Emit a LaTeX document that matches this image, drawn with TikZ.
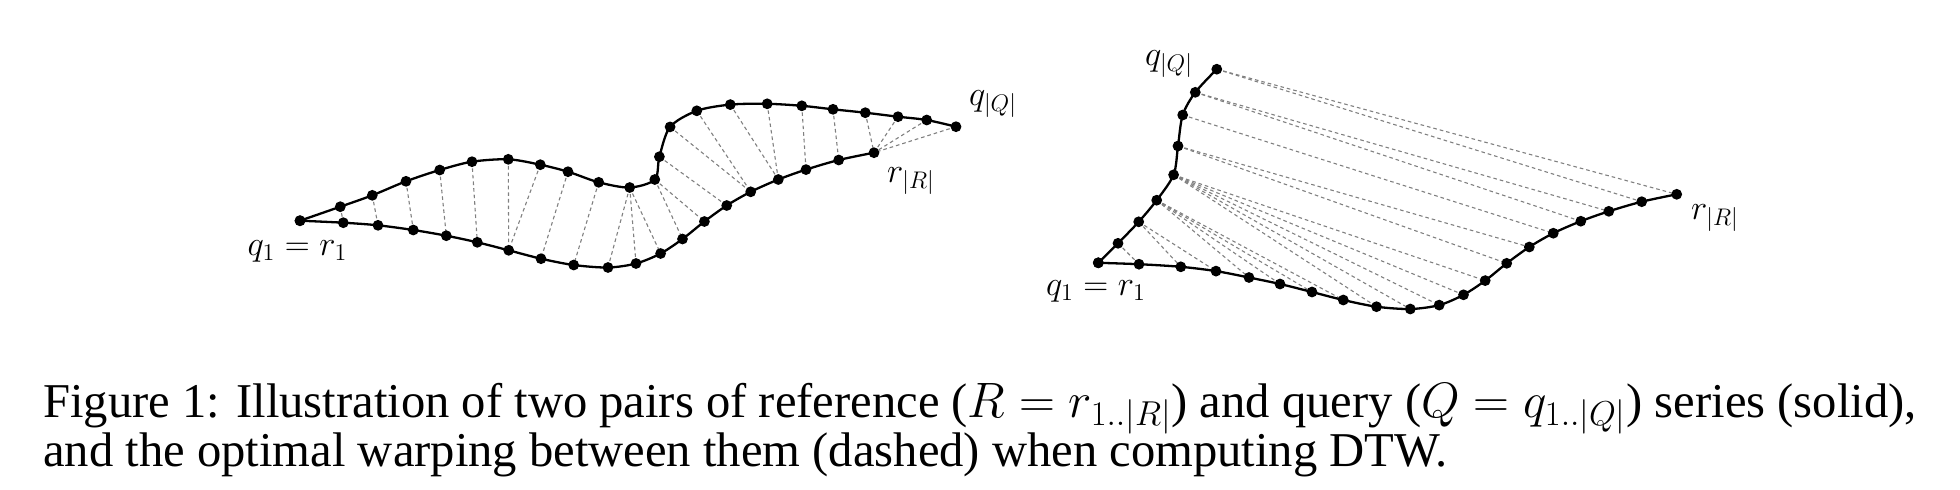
\documentclass[tikz,border=0pt]{standalone}
\usepackage{fontspec}
\setmainfont{Liberation Serif}
\begin{document}
\begin{tikzpicture}[x={(0.5pt,0)},y={(0,-0.5pt)},
  series/.style={line width=1.15pt,black},
  warp/.style={black!50,line width=0.55pt,dash pattern=on 1.8pt off 1.5pt},
  ptdot/.style={black},
  lab/.style={inner sep=0pt,font=\fontsize{16.5}{20}\selectfont},
  captext/.style={inner sep=0pt,anchor=base west,font=\fontsize{24.3}{25}\selectfont}]
\useasboundingbox (0,0) rectangle (1960,489);
% ---------- left pair ----------
\foreach \x/\y [count=\i] in {300/220.7,340.3/206.7,372.3/195.3,406/181.3,439.7/170,472/161.7,508.3/159.3,540.3/164.7,568/171.7,598.7/182.3,629.7/187.5,654.8/179.5,659.4/156.7,670.1/126.9,696.8/110.8,730.3/104.6,767.2/103.8,801.8/105.8,833/109.3,865.3/112.7,898/116.7,926.7/120,956/126.7}
  \coordinate (aq\i) at (\x,\y);
\foreach \x/\y [count=\i] in {300/220.7,343.3/222.7,378/225.3,413.3/230,446.3/235.7,477.3/242.3,508.7/250.3,541/258.7,573.7/265,608/267.5,636/263.5,660.6/253.5,682.5/239,704.4/221.5,726.7/205.5,750.7/191.8,778.3/179.5,806/169.6,838.7/160,874/152.7}
  \coordinate (ar\i) at (\x,\y);
\foreach \a/\b in {2/2,3/3,4/4,5/5,6/6,7/7,8/7,9/8,10/9,11/10,11/11,11/12,12/13,12/14,13/15,14/16,15/16,16/17,17/17,18/18,19/19,20/20,21/20,22/20,23/20}
  \draw[warp] (aq\a) -- (ar\b);
\draw[series] plot[smooth] coordinates {(aq1)(aq2)(aq3)(aq4)(aq5)(aq6)(aq7)(aq8)(aq9)(aq10)(aq11)(aq12)(aq13)(aq14)(aq15)(aq16)(aq17)(aq18)(aq19)(aq20)(aq21)(aq22)(aq23)};
\draw[series] plot[smooth] coordinates {(ar1)(ar2)(ar3)(ar4)(ar5)(ar6)(ar7)(ar8)(ar9)(ar10)(ar11)(ar12)(ar13)(ar14)(ar15)(ar16)(ar17)(ar18)(ar19)(ar20)};
\foreach \i in {1,...,23} \fill[ptdot] (aq\i) circle (2.7pt);
\foreach \i in {1,...,20} \fill[ptdot] (ar\i) circle (2.7pt);
\node[lab] (la1) at (297.5,251) {$q_1=r_1$};
\node[lab] (laq) at (993,104) {$q_{|Q|}$};
\node[lab] (lar) at (911,181) {$r_{|R|}$};
% ---------- right pair ----------
\foreach \x/\y [count=\i] in {1098.3/262.8,1118/243.3,1138.7/221.8,1156.7/200.2,1173.6/174.8,1178/146,1182.7/115,1195.3/92.3,1216.8/69.2}
  \coordinate (bq\i) at (\x,\y);
\foreach \x/\y [count=\i] in {1098.3/262.8,1139/264.2,1180.8/266.8,1216/271.1,1249/277.5,1280/284,1312/292,1343.3/300,1376.5/306.7,1410.3/309,1439.2/305.1,1463.5/294.8,1485.2/280.6,1506.7/263.3,1529.3/247,1553.3/233.2,1580.8/221.2,1608.8/211.3,1641.7/201.7,1676.7/194.3}
  \coordinate (br\i) at (\x,\y);
\foreach \a/\b in {2/2,3/3,3/4,4/5,4/6,4/7,4/8,5/9,5/10,5/11,5/12,5/13,6/14,6/15,7/16,8/17,8/18,9/19,9/20}
  \draw[warp] (bq\a) -- (br\b);
\draw[series] plot[smooth] coordinates {(bq1)(bq2)(bq3)(bq4)(bq5)(bq6)(bq7)(bq8)(bq9)};
\draw[series] plot[smooth] coordinates {(br1)(br2)(br3)(br4)(br5)(br6)(br7)(br8)(br9)(br10)(br11)(br12)(br13)(br14)(br15)(br16)(br17)(br18)(br19)(br20)};
\foreach \i in {1,...,9} \fill[ptdot] (bq\i) circle (2.7pt);
\foreach \i in {1,...,20} \fill[ptdot] (br\i) circle (2.7pt);
\node[lab] (lb1) at (1096,291) {$q_1=r_1$};
\node[lab] (lbq) at (1169,64) {$q_{|Q|}$};
\node[lab] (lbr) at (1715,218) {$r_{|R|}$};
% ---------- caption ----------
\node[captext] (c1) at (43,417) {Figure 1: Illustration of two pairs of reference ($R=r_{1..|R|}$) and query ($Q=q_{1..|Q|}$) series (solid),};
\node[captext] (c2) at (43,466) {and the optimal warping between them (dashed) when computing DTW.};
\end{tikzpicture}
\end{document}
